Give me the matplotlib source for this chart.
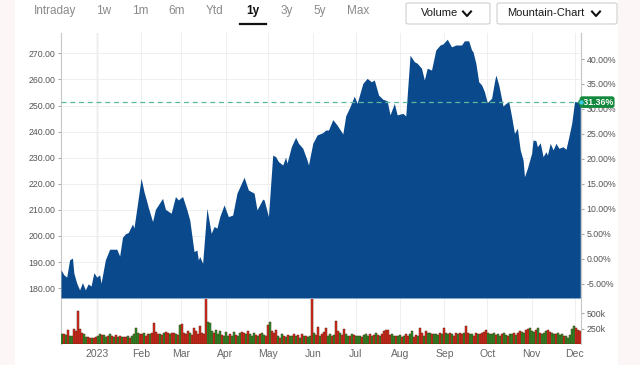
"""One-year mountain chart with volume panel."""

import numpy as np
import pandas as pd
import matplotlib
matplotlib.use("Agg")
import matplotlib.pyplot as plt
from matplotlib.patches import Rectangle, FancyBboxPatch
from matplotlib.lines import Line2D

plt.rcParams["font.family"] = ["Liberation Sans", "DejaVu Sans"]

# price trace
price_dates = [
    "2022-12-07", "2022-12-09", "2022-12-11", "2022-12-13", "2022-12-15", "2022-12-16",
    "2022-12-18", "2022-12-20", "2022-12-22", "2022-12-24", "2022-12-26", "2022-12-28",
    "2022-12-30", "2023-01-01", "2023-01-03", "2023-01-04", "2023-01-07", "2023-01-10",
    "2023-01-15", "2023-01-17", "2023-01-19", "2023-01-21", "2023-01-23", "2023-01-26",
    "2023-01-27", "2023-01-29", "2023-02-01", "2023-02-03", "2023-02-05", "2023-02-06",
    "2023-02-09", "2023-02-11", "2023-02-16", "2023-02-18", "2023-02-22", "2023-02-25",
    "2023-02-27", "2023-03-02", "2023-03-05", "2023-03-07", "2023-03-10", "2023-03-12",
    "2023-03-13", "2023-03-14", "2023-03-16", "2023-03-19", "2023-03-22", "2023-03-24",
    "2023-03-26", "2023-03-28", "2023-03-31", "2023-04-03", "2023-04-06", "2023-04-09",
    "2023-04-10", "2023-04-14", "2023-04-17", "2023-04-21", "2023-04-23", "2023-04-27",
    "2023-04-28", "2023-05-01", "2023-05-04", "2023-05-06", "2023-05-08", "2023-05-11",
    "2023-05-13", "2023-05-14", "2023-05-17", "2023-05-20", "2023-05-22", "2023-05-25",
    "2023-05-28", "2023-05-29", "2023-06-01", "2023-06-04", "2023-06-08", "2023-06-10",
    "2023-06-12", "2023-06-15", "2023-06-18", "2023-06-22", "2023-06-24", "2023-06-27",
    "2023-06-30", "2023-07-02", "2023-07-06", "2023-07-09", "2023-07-12", "2023-07-14",
    "2023-07-17", "2023-07-20", "2023-07-23", "2023-07-25", "2023-07-28", "2023-07-30",
    "2023-08-03", "2023-08-05", "2023-08-08", "2023-08-11", "2023-08-13", "2023-08-16",
    "2023-08-18", "2023-08-20", "2023-08-23", "2023-08-26", "2023-08-29", "2023-08-31",
    "2023-09-03", "2023-09-06", "2023-09-09", "2023-09-13", "2023-09-15", "2023-09-18",
    "2023-09-20", "2023-09-21", "2023-09-23", "2023-09-25", "2023-09-27", "2023-09-29",
    "2023-10-01", "2023-10-04", "2023-10-06", "2023-10-07", "2023-10-09", "2023-10-12",
    "2023-10-14", "2023-10-16", "2023-10-18", "2023-10-20", "2023-10-22", "2023-10-24",
    "2023-10-26", "2023-10-27", "2023-10-29", "2023-11-01", "2023-11-02", "2023-11-04",
    "2023-11-05", "2023-11-07", "2023-11-09", "2023-11-11", "2023-11-12", "2023-11-14",
    "2023-11-16", "2023-11-18", "2023-11-20", "2023-11-23", "2023-11-25", "2023-11-27",
    "2023-11-29", "2023-12-01", "2023-12-05",
]
prices = [
    187.0, 185.1, 184.2, 190.8, 191.5, 185.7,
    181.9, 179.3, 182.1, 179.3, 181.6, 180.8,
    185.9, 184.2, 185.1, 181.9, 190.8, 194.9,
    194.9, 192.3, 199.5, 200.8, 201.3, 204.6,
    203.0, 210.6, 222.1, 217.0, 213.1, 211.0,
    205.5, 210.2, 214.4, 210.2, 208.7, 215.1,
    213.8, 215.1, 210.0, 206.1, 194.0, 194.6,
    190.8, 192.1, 189.5, 210.6, 201.0, 203.6,
    203.0, 207.4, 211.9, 207.4, 208.0, 216.4,
    217.6, 222.5, 217.6, 216.4, 210.0, 214.1,
    213.8, 207.4, 231.0, 230.4, 228.5, 227.2,
    230.2, 227.9, 234.2, 237.8, 235.5, 233.6,
    229.1, 227.2, 235.5, 238.7, 239.6, 240.6,
    240.6, 244.6, 242.5, 239.1, 246.0, 249.5,
    253.6, 250.8, 258.5, 260.4, 259.1, 259.8,
    254.0, 252.4, 251.8, 246.4, 250.8, 246.4,
    247.0, 246.0, 269.3, 266.8, 266.2, 264.3,
    259.8, 264.3, 263.6, 271.3, 273.2, 273.6,
    275.4, 272.5, 273.2, 273.2, 274.8, 274.8,
    271.3, 270.6, 266.2, 259.1, 257.9, 255.3,
    251.1, 252.8, 259.1, 261.7, 257.9, 249.8,
    250.8, 251.5, 245.7, 239.3, 241.3, 233.0,
    229.1, 222.7, 225.9, 231.7, 236.8, 236.5,
    234.2, 235.7, 230.4, 232.3, 231.0, 235.5,
    233.0, 235.5, 233.6, 234.2, 233.2, 238.0,
    243.2, 251.5, 251.3,
]
last_pct = 31.36

# daily volume in thousands, one per trading session from 2022-12-07
volume_k = [
    # Dec
    165, 155, 140, 235, 135, 125, 245, 215, 528, 245, 185, 165, 120, 110, 95, 95, 105, 120,
    # Jan
    135, 155, 140, 145, 120, 135, 165, 130, 115, 145, 115, 135, 120, 110, 115, 135, 105, 125,
    155, 255, 185, 165,
    # Feb
    155, 175, 135, 165, 155, 175, 345, 195, 165, 155, 145, 185, 200, 175, 165, 175, 185, 165,
    145, 315,
    # Mar
    330, 185, 165, 205, 175, 145, 255, 215, 165, 285, 175, 165, 1250, 365, 345, 205, 185, 235,
    155, 215, 145, 135, 195,
    # Apr
    125, 155, 135, 195, 145, 125, 175, 195, 185, 165, 205, 155, 135, 175, 145, 125, 155, 185,
    145, 135,
    # May
    315, 365, 215, 175, 225, 125, 105, 155, 135, 115, 145, 125, 135, 165, 125, 145, 105, 155,
    125, 135, 115, 125, 1100,
    # Jun
    175, 145, 275, 135, 165, 195, 255, 125, 165, 135, 145, 370, 205, 175, 145, 245, 155, 135,
    135, 165, 145, 125,
    # Jul
    125, 135, 115, 145, 165, 135, 155, 125, 145, 175, 145, 125, 165, 215, 225, 235, 145, 155,
    135, 125, 125,
    # Aug
    145, 115, 135, 155, 125, 165, 205, 115, 145, 135, 265, 175, 125, 205, 185, 175, 165, 155,
    165, 145, 175, 155, 265,
    # Sep
    185, 165, 175, 155, 135, 185, 155, 175, 165, 175, 285, 185, 165, 155, 135, 175, 165, 155,
    175, 195, 225,
    # Oct
    175, 165, 155, 175, 145, 165, 135, 155, 175, 145, 135, 155, 165, 175, 145, 185, 205, 195,
    175, 225, 245, 265,
    # Nov
    215, 195, 225, 255, 185, 165, 175, 205, 235, 195, 185, 155, 165, 175, 145, 155, 135, 125,
    95, 145, 245, 295,
    # Dec
    255, 225, 215,
]
volume_dir = (
    "grgrggrrrrrggrrgrr"
    "ggrggrgrgrgrgrrgrggggr"
    "rgrrgrrrrgrgrrgrrgrg"
    "rrrrgrrrrrrrrgggrgggrgg"
    "grggrggrrgrgggrgrggr"
    "rgrrrgrgrgrggrgrgrgrggr"
    "grrgrrrggrgrrgrrggrgrg"
    "ggrgggrgrgrgrrrrrggrg"
    "grgrrggrrgrrgrggrgggrgr"
    "ggrgrrgrrgrrggrrgrrrr"
    "ggggrggrggrggrgrrggrrg"
    "ggrgrgggrrggrgggrggggg"
    "rrr"
)

month_ticks = pd.date_range("2023-01-01", "2023-12-01", freq="MS")
month_labels = ["2023", "Feb", "Mar", "Apr", "May", "Jun", "Jul", "Aug",
                "Sep", "Oct", "Nov", "Dec"]
periods = ["Intraday", "1w", "1m", "6m", "Ytd", "1y", "3y", "5y", "Max"]

dates = pd.to_datetime(price_dates)
x_lo, x_hi = pd.Timestamp("2022-12-07"), pd.Timestamp("2023-12-05 12:00")

# sessions are drawn evenly spaced across the window, like the source chart
n = len(volume_k)
step = (x_hi - x_lo) / n
vol_x = [x_lo + step * (i + 0.5) for i in range(n)]
vol = np.array(volume_k) * 1000
vol_colors = ["#1e9a2a" if c == "g" else "#e3261e" for c in volume_dir]
base = prices[-1] / (1 + last_pct / 100)

W, H = 640, 365
fig = plt.figure(figsize=(W / 100, H / 100), dpi=100)
fig.patch.set_facecolor("#fcf6f6")
fig.add_artist(Rectangle((15 / W, 0), 602 / W, 1, transform=fig.transFigure,
                         color="white", zorder=0))

# --- top nav ---
narrow = ["Liberation Sans Narrow", "Liberation Sans"]
nav_x = [55, 104, 140, 177, 215, 253, 287, 320, 358]
for name, px in zip(periods, nav_x):
    active = name == "1y"
    fig.text(px / W, 1 - 11 / H, name, ha="center", va="center",
             fontsize=8.5, family=narrow,
             color="#111111" if active else "#8a8a8a",
             weight="bold" if active else "normal")
fig.add_artist(Line2D([240 / W, 266 / W], [1 - 23.5 / H] * 2, transform=fig.transFigure,
                      color="#111111", lw=1.6))

for (x0, x1, label, tx, cx) in [(406, 490, "Volume", 440, 467),
                                 (497, 617, "Mountain-Chart", 546, 596)]:
    fig.add_artist(FancyBboxPatch((x0 / W, 1 - 24 / H), (x1 - x0) / W, 21 / H,
                                  boxstyle="round,pad=0,rounding_size=0.004",
                                  transform=fig.transFigure, fc="white",
                                  ec="#cfcfcf", lw=0.8))
    fig.text(tx / W, 1 - 13.5 / H, label, ha="center", va="center", fontsize=8,
             family=narrow, color="#1a1a1a")
    fig.add_artist(Line2D([(cx - 4) / W, cx / W, (cx + 4) / W],
                          [1 - 11.5 / H, 1 - 16 / H, 1 - 11.5 / H],
                          transform=fig.transFigure, color="#111111", lw=1.5))

# --- price panel ---
ax = fig.add_axes([61 / W, 1 - 298 / H, 520 / W, 265 / H])
axv = fig.add_axes([61 / W, 1 - 344 / H, 520 / W, 45 / H], sharex=ax)

ymin, ymax = 176.2, 277.8
ax.fill_between(dates, ymin, prices, color="#0a4a8c", lw=0, zorder=3)
ax.set_ylim(ymin, ymax)
ax.set_xlim(x_lo, x_hi)

ax.set_yticks(np.arange(180, 271, 10))
ax.set_yticklabels([f"{v:.2f}" for v in range(180, 271, 10)])
ax.tick_params(axis="y", labelsize=6.3, labelcolor="#555555", length=2.5,
               color="#aaaaaa", pad=1.5)
ax.tick_params(axis="x", length=0, labelbottom=False)
ax.grid(True, color="#efefef", lw=0.7, zorder=0)
ax.set_xticks(month_ticks)
for s in ["top", "bottom"]:
    ax.spines[s].set_visible(False)
for s in ["left", "right"]:
    ax.spines[s].set_color("#c8c8c8")
    ax.spines[s].set_linewidth(0.8)

ax.axvline(month_ticks[0], color="#c0c0c0", lw=0.9, zorder=1)
ax.axhline(prices[-1], color="#5cb89c", lw=0.9, ls=(0, (4, 3)), zorder=4)

sec = ax.secondary_yaxis("right", functions=(lambda p: (p / base - 1) * 100,
                                              lambda q: base * (1 + q / 100)))
pct_ticks = np.arange(-5, 41, 5)
sec.set_yticks(pct_ticks)
sec.set_yticklabels([f"{v:.2f}%" for v in pct_ticks])
sec.tick_params(labelsize=6.3, labelcolor="#555555", length=2.5, color="#aaaaaa", pad=1.5)
sec.spines["right"].set_color("#c8c8c8")

ax.text(x_hi, prices[-1], " 31.36%", ha="left", va="center", fontsize=6.3,
        color="white", weight="bold", clip_on=False, zorder=6,
        bbox=dict(boxstyle="round,pad=0.15,rounding_size=0.3", fc="#13893e", ec="none"))
ax.plot([x_hi], [prices[-1]], "o", ms=4, color="#3fc8e4", mec="#13893e", mew=0.8,
        clip_on=False, zorder=7)

# --- volume panel ---
axv.bar(vol_x, vol, width=step * 0.92, color=vol_colors, edgecolor="#5a2a12",
        linewidth=0.35, zorder=3)
axv.set_ylim(0, 730000)
axv.axvline(month_ticks[0], color="#c0c0c0", lw=0.9, zorder=1)
axv.grid(True, axis="x", color="#efefef", lw=0.7, zorder=0)
axv.yaxis.tick_right()
axv.set_yticks([250000, 500000])
axv.set_yticklabels(["250k", "500k"])
axv.tick_params(axis="y", labelsize=6.3, labelcolor="#555555", length=2.5,
                color="#aaaaaa", pad=1.5)
axv.set_xticks(month_ticks)
axv.set_xticklabels(month_labels)
axv.tick_params(axis="x", labelsize=7.5, labelcolor="#666666", length=0, pad=3.5)
for s in ["top", "bottom"]:
    axv.spines[s].set_visible(False)
for s in ["left", "right"]:
    axv.spines[s].set_color("#c8c8c8")
    axv.spines[s].set_linewidth(0.8)

fig.savefig("out.png", dpi=100, facecolor=fig.get_facecolor())
